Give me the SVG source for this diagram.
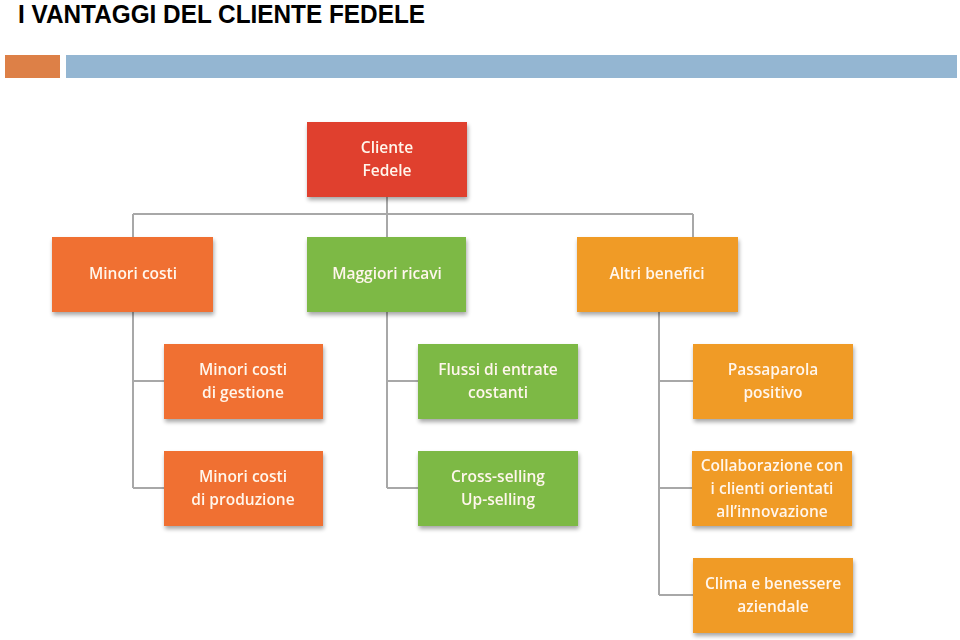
<svg xmlns="http://www.w3.org/2000/svg" width="960" height="640" viewBox="0 0 960 640">
<style>
.t{font-family:"Open Sans","Liberation Sans",sans-serif;font-size:15.5px;font-weight:600;fill:#FFF6EC;text-anchor:middle}
.title{font-family:"Liberation Sans",Arial,sans-serif;font-weight:bold;font-size:25px;fill:#000}
.c{stroke:#A8A8A8;stroke-width:2;fill:none}
.red{fill:#E0412E}
.or{fill:#F07031}
.gr{fill:#7DB944}
.yo{fill:#F09B28}
</style>
<defs>
<filter id="sh" x="-10%" y="-10%" width="125%" height="130%">
<feGaussianBlur in="SourceAlpha" stdDeviation="2"/>
<feOffset dx="1" dy="3" result="b"/>
<feComponentTransfer><feFuncA type="linear" slope="0.35"/></feComponentTransfer>
<feMerge><feMergeNode/><feMergeNode in="SourceGraphic"/></feMerge>
</filter>
</defs>
<rect width="960" height="640" fill="#fff"/>
<text class="title" x="18" y="23" textLength="407" lengthAdjust="spacingAndGlyphs">I VANTAGGI DEL CLIENTE FEDELE</text>
<rect x="5" y="55" width="55" height="23" fill="#DD8047"/>
<rect x="66" y="55" width="891" height="23" fill="#94B6D2"/>
<g id="connectors">
<path class="c" d="M387 197V237M133 214H693M133 214V237M693 214V237"/>
<path class="c" d="M133 312V488M133 381H164M133 488H164"/>
<path class="c" d="M387 312V488M387 381H418M387 488H418"/>
<path class="c" d="M659 312V595M659 381H693M659 488H692M659 595H693"/>
</g>
<g id="n-cliente" filter="url(#sh)"><rect class="red" x="307" y="122" width="160" height="75"/><text class="t" x="387" y="153">Cliente</text><text class="t" x="387" y="176">Fedele</text></g>
<g id="n-minori" filter="url(#sh)"><rect class="or" x="52" y="237" width="161" height="75"/><text class="t" x="133" y="279">Minori costi</text></g>
<g id="n-maggiori" filter="url(#sh)"><rect class="gr" x="307" y="237" width="159" height="75"/><text class="t" x="387" y="279">Maggiori ricavi</text></g>
<g id="n-altri" filter="url(#sh)"><rect class="yo" x="577" y="237" width="161" height="75"/><text class="t" x="657" y="279">Altri benefici</text></g>
<g id="n-gestione" filter="url(#sh)"><rect class="or" x="164" y="344" width="159" height="75"/><text class="t" x="243" y="375">Minori costi</text><text class="t" x="243" y="398">di gestione</text></g>
<g id="n-produzione" filter="url(#sh)"><rect class="or" x="164" y="451" width="159" height="75"/><text class="t" x="243" y="482">Minori costi</text><text class="t" x="243" y="505">di produzione</text></g>
<g id="n-flussi" filter="url(#sh)"><rect class="gr" x="418" y="344" width="160" height="75"/><text class="t" x="498" y="375">Flussi di entrate</text><text class="t" x="498" y="398">costanti</text></g>
<g id="n-cross" filter="url(#sh)"><rect class="gr" x="418" y="451" width="160" height="75"/><text class="t" x="498" y="482">Cross-selling</text><text class="t" x="498" y="505">Up-selling</text></g>
<g id="n-passaparola" filter="url(#sh)"><rect class="yo" x="693" y="344" width="160" height="75"/><text class="t" x="773" y="375">Passaparola</text><text class="t" x="773" y="398">positivo</text></g>
<g id="n-collab" filter="url(#sh)"><rect class="yo" x="692" y="451" width="160" height="75"/><text class="t" x="772" y="471">Collaborazione con</text><text class="t" x="772" y="494">i clienti orientati</text><text class="t" x="772" y="517">all’innovazione</text></g>
<g id="n-clima" filter="url(#sh)"><rect class="yo" x="693" y="558" width="160" height="75"/><text class="t" x="773" y="589">Clima e benessere</text><text class="t" x="773" y="612">aziendale</text></g>
</svg>
